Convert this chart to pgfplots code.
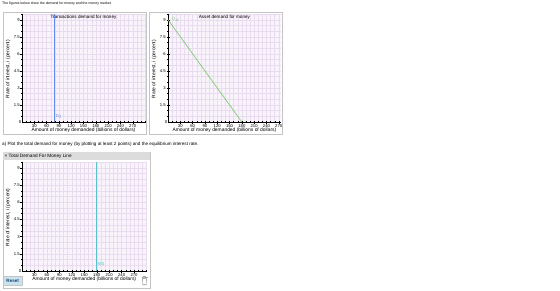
\documentclass[border=0pt]{standalone}
\usepackage{pgfplots}
\pgfplotsset{compat=1.18}
\usepackage{fontspec}
\setmainfont{Liberation Sans}
\definecolor{plotbg}{HTML}{F9F3FB}
\definecolor{gridc}{HTML}{E8DCEE}
\definecolor{boxc}{HTML}{C4C4C4}
\definecolor{dtblue}{HTML}{6A8CF0}
\definecolor{dagreen}{HTML}{80CC72}
\definecolor{msteal}{HTML}{5EC0C8}
\definecolor{headc}{HTML}{DCDCDC}
\definecolor{resetc}{HTML}{C7E4EE}
\definecolor{resettxt}{HTML}{1F3F6F}
\pgfplotsset{
 panel/.style={
  scale only axis, height=108pt,
  xmin=0,xmax=300,ymin=0,ymax=9.5,
  axis background/.style={fill=plotbg},
  axis lines=left, axis line style={-, black, line width=0.4pt},
  xtick={30,60,...,270}, ytick={1.5,3,4.5,6,7.5,9},
  minor xtick={10,20,...,300}, minor ytick={0.5,1,...,9.5},
  grid=both, grid style={gridc, line width=0.35pt}, major grid style={gridc, line width=0.35pt},
  tick align=center, major tick length=3pt, minor tick length=1.8pt,
  tick style={black, line width=0.3pt},
  /pgf/number format/assume math mode=true,
  tick label style={font=\fontsize{4.2}{4.6}\selectfont, inner sep=0.5pt},
  label style={font=\fontsize{4.9}{5.4}\selectfont},
  xlabel={Amount of money demanded (billions of dollars)},
  ylabel={Rate of interest, i (percent)},
  xlabel style={at={(axis description cs:0.5,0)}, anchor=center, yshift=-7.8pt},
  ylabel style={at={(axis description cs:0,0.5)}, anchor=center, xshift=-1pt, yshift=14pt},
  clip=false,
 }
}
\begin{document}
\begin{tikzpicture}[x=1pt,y=1pt]
\path[fill=white] (0,0) rectangle (560,290);
\node[anchor=west, font=\fontsize{3.5}{4}\selectfont, inner sep=0pt] at (2,286) {The figures below show the demand for money and the money market.};
% panel boxes
\draw[boxc, line width=0.5pt, fill=white] (3,277.5) rectangle (146,156);
\draw[boxc, line width=0.5pt, fill=white] (149,277.5) rectangle (282,156);
\node[anchor=west, font=\fontsize{4.6}{5}\selectfont, inner sep=0pt] at (2,146) {a) Plot the total demand for money (by plotting at least 2 points) and the equilibrium interest rate.};
\draw[boxc, line width=0.5pt, fill=white] (3,138) rectangle (150,2);
\fill[headc] (3.3,137.7) rectangle (149.7,130);
\node[anchor=west, font=\fontsize{4.7}{5}\selectfont, inner sep=0pt] at (4.5,133.8) {× Total Demand For Money Line};

% panel 1
\begin{axis}[panel, width=123pt, at={(22pt,168pt)}, anchor=south west]
\addplot[dtblue, line width=1pt] coordinates {(80,0) (80,9.5)};
\node[anchor=west, dtblue, font=\fontsize{4.4}{5}\selectfont, inner sep=0.8pt] at (axis cs:80,0.5) {D$_t$};
\node[anchor=north, font=\fontsize{4.6}{5}\selectfont, inner sep=0.5pt] at (axis description cs:0.5,1) {Transactions demand for money};
\node[anchor=east, font=\fontsize{4.2}{4.6}\selectfont, inner sep=0.6pt] at (axis cs:0,0) {0};
\end{axis}

% panel 2
\begin{axis}[panel, xmax=275, width=112.8pt, at={(168pt,168pt)}, anchor=south west]
\addplot[dagreen, line width=0.7pt] coordinates {(0,9) (180,0)};
\node[anchor=west, dagreen, font=\fontsize{4.4}{5}\selectfont, inner sep=0.8pt] at (axis cs:8,9.05) {D$_a$};
\node[anchor=north, font=\fontsize{4.6}{5}\selectfont, inner sep=0.5pt] at (axis description cs:0.5,1) {Asset demand for money};
\node[anchor=east, font=\fontsize{4.2}{4.6}\selectfont, inner sep=0.6pt] at (axis cs:0,0) {0};
\end{axis}

% panel 3
\begin{axis}[panel, width=124.5pt, height=109pt, at={(22pt,19pt)}, anchor=south west]
\addplot[msteal, line width=0.8pt] coordinates {(180,0) (180,9.5)};
\node[anchor=west, msteal, font=\fontsize{4.4}{5}\selectfont, inner sep=0.8pt] at (axis cs:180,0.6) {MS};
\node[anchor=east, font=\fontsize{4.2}{4.6}\selectfont, inner sep=0.6pt] at (axis cs:0,0) {0};
\end{axis}

% reset button
\draw[fill=resetc, draw=boxc, line width=0.3pt] (3.5,14) rectangle (22,4.5);
\node[font=\bfseries\fontsize{4.6}{5}\selectfont, text=resettxt, inner sep=0pt] at (12.75,9.3) {Reset};
% trash icon
\fill[gray!70] (141.5,13.5) rectangle (147.5,12.6);
\fill[gray!70] (143.3,14.2) rectangle (145.7,13.5);
\fill[gray!60] (142,12.4) -- (147,12.4) -- (146.5,5) -- (142.5,5) -- cycle;
\foreach \xx in {143.4,144.5,145.6} \draw[white, line width=0.3pt] (\xx,11.5) -- (\xx,6);
\end{tikzpicture}
\end{document}
